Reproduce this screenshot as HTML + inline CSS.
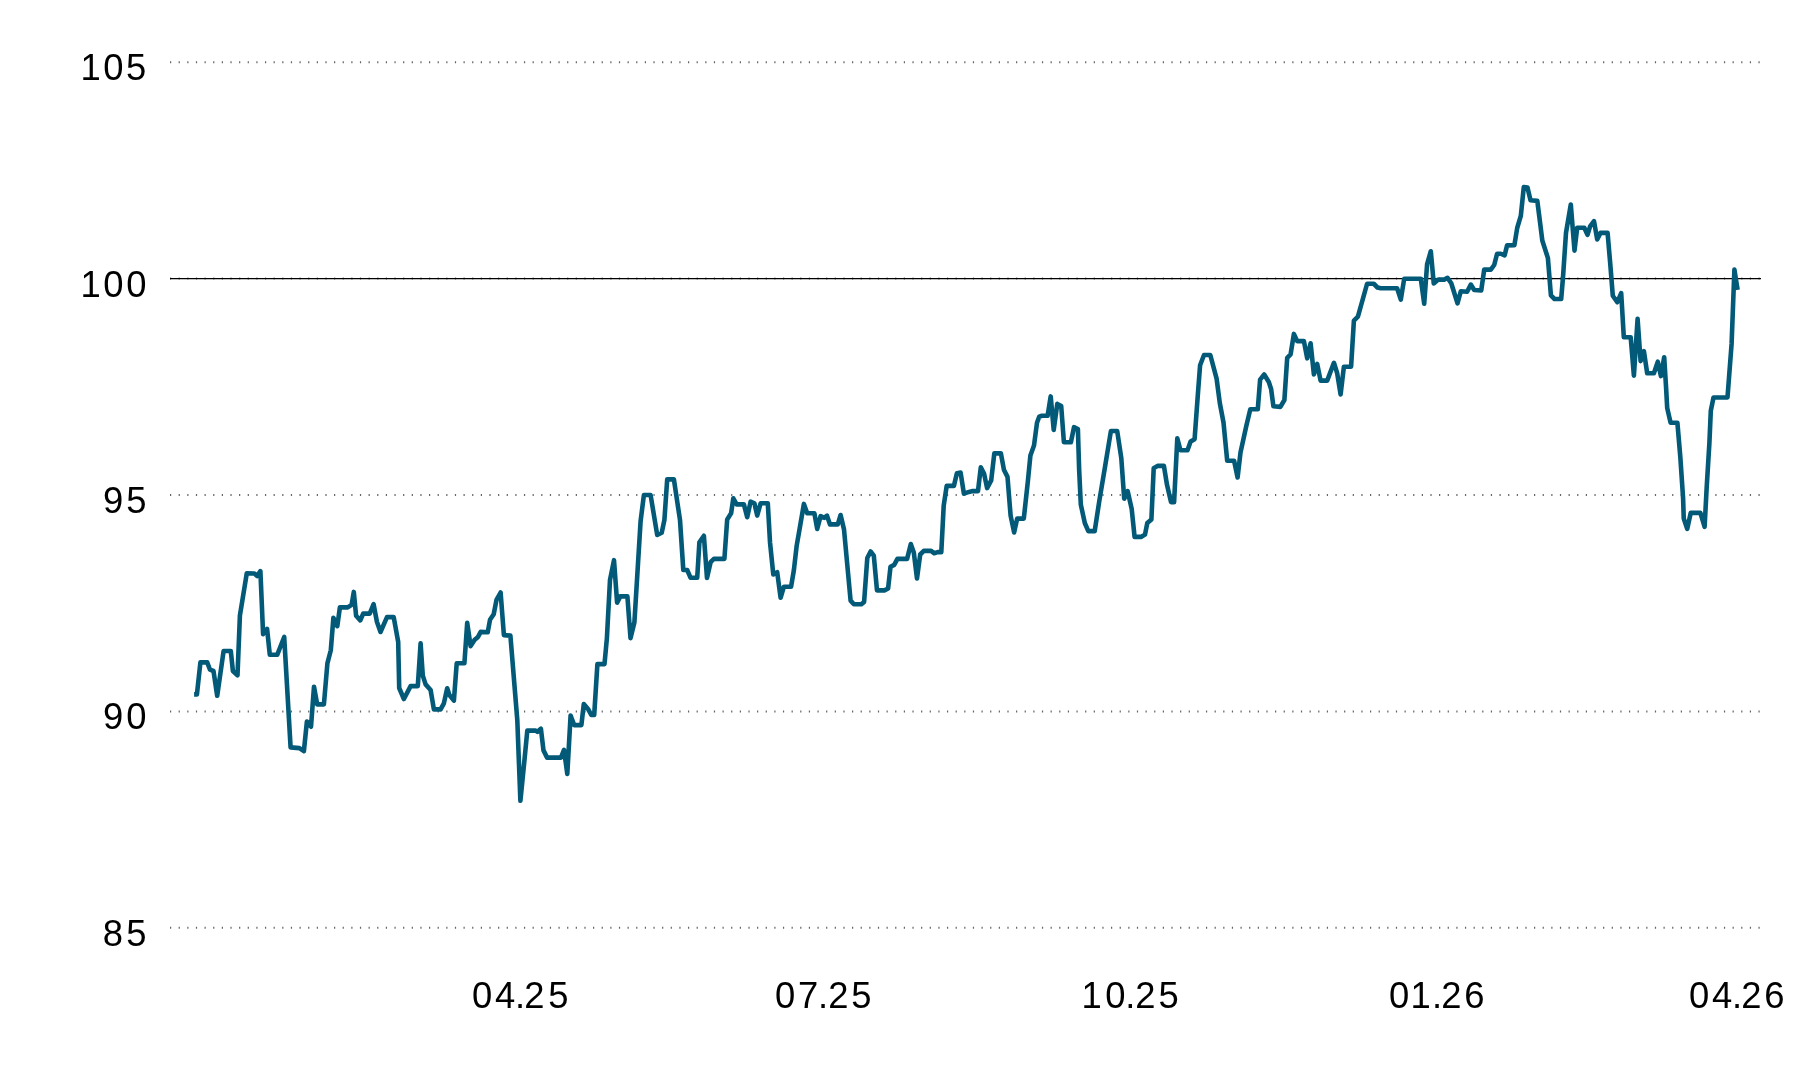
<!DOCTYPE html>
<html><head><meta charset="utf-8"><title>Chart</title>
<style>
html,body{margin:0;padding:0;background:#fff;overflow:hidden;}
body{width:1800px;height:1080px;overflow:hidden;}
svg{display:block;}
text{font-family:"Liberation Sans",Arial,sans-serif;font-size:36.4px;fill:#000;}
</style></head><body>
<svg width="1800" height="1080" viewBox="0 0 1800 1080">
<rect width="1800" height="1080" fill="#fff"/>
<line x1="170" y1="62.2" x2="1761" y2="62.2" stroke="#666" stroke-width="2" stroke-dasharray="1.2 7.433"/>
<line x1="170" y1="278.6" x2="1761" y2="278.6" stroke="#666" stroke-width="2" stroke-dasharray="1.2 7.433"/>
<line x1="170" y1="495.0" x2="1761" y2="495.0" stroke="#666" stroke-width="2" stroke-dasharray="1.2 7.433"/>
<line x1="170" y1="711.4" x2="1761" y2="711.4" stroke="#666" stroke-width="2" stroke-dasharray="1.2 7.433"/>
<line x1="170" y1="927.8" x2="1761" y2="927.8" stroke="#666" stroke-width="2" stroke-dasharray="1.2 7.433"/>
<line x1="170" y1="278.6" x2="1761" y2="278.6" stroke="#000" stroke-width="1.45"/>
<g style="filter:grayscale(1)"><text x="80.38 103.18 126.11" y="80.10">105</text>
<text x="80.38 103.18 126.18" y="296.50">100</text>
<text x="102.89 126.16" y="512.90">95</text>
<text x="102.89 126.23" y="729.30">90</text>
<text x="102.68 126.21" y="945.70">85</text>
<text x="472.08 494.89 515.04 524.18 548.31" y="1008.30">04.25</text>
<text x="774.98 798.06 817.94 828.18 851.31" y="1008.30">07.25</text>
<text x="1081.38 1105.18 1125.24 1135.18 1158.41" y="1008.30">10.25</text>
<text x="1389.08 1410.38 1431.94 1441.28 1464.15" y="1008.30">01.26</text>
<text x="1689.08 1711.89 1731.94 1741.28 1764.15" y="1008.30">04.26</text></g>
<path d="M194.1,694.4 L196.9,694.4 L200.4,662.4 L207.2,662.4 L210,669.7 L213.5,671 L217.2,695.8 L223.6,651 L230.8,651 L232.9,671 L237.5,675.3 L239.9,615.6 L246.8,573.2 L254.4,573.5 L257.2,576 L260.4,571.1 L263.1,634.1 L267.1,628.9 L269.8,654.8 L277.2,654.8 L284.2,637 L290.6,747.4 L299.4,748.1 L303.9,751.1 L306.9,721.5 L311,726.7 L314,686.7 L317.2,704.4 L323.9,704.4 L327.4,663.4 L330.8,650.2 L333.4,617.8 L337.3,626.2 L339.9,607.4 L347.7,607.4 L351.6,604.8 L353.8,591.9 L356.1,615.8 L360.3,620.4 L363.2,613.6 L369.7,613.6 L373.6,604.2 L376.9,621.7 L380.5,632 L387,617.1 L393.7,617.1 L398.2,642 L399.2,688 L403.9,699 L410.6,686.1 L417.8,686.1 L420.6,643.3 L422.8,675.6 L425.6,684.4 L430.6,690 L433.9,709.4 L440.6,709.4 L443.9,703.3 L447.2,688.3 L449.4,695 L453.9,700.6 L456.7,663.3 L464.4,663.3 L467.2,622.8 L470.6,646.1 L474.7,639.7 L478,636.9 L480.7,631.9 L487.7,632.3 L490,619.8 L493.7,614.3 L496.5,599.9 L500.6,592.5 L503.9,635.1 L510.4,635.6 L517.3,720 L520.4,800.8 L524.3,761.8 L527.3,730.6 L535.7,730.6 L537.5,731.8 L540.9,728.7 L543.5,750.4 L547.1,757.6 L561,757.6 L564,749.8 L567.3,773.9 L570.6,715.5 L574.2,725.1 L581.4,725.1 L583.8,704.1 L588,708.9 L591.3,715 L594.2,715 L597.4,664.1 L604.5,664.1 L606.9,638.1 L610,579.9 L614,560.2 L617.1,602.7 L620.3,596.4 L627.4,596.4 L630.5,638.1 L634.4,622.4 L640.6,521.1 L643.9,495 L650.6,495 L657.2,535 L661.7,532.8 L664.4,520 L667.2,479.4 L673.9,479.4 L680,520 L683.3,570 L687.2,570 L690.6,577.8 L697.2,577.8 L699.4,542.2 L703.9,535.8 L707,578 L710.6,562.2 L713.9,558.9 L724.4,558.9 L727.2,519.4 L731.1,513.3 L733.3,498.3 L736.7,504.4 L743.9,504.4 L747.2,517.2 L750.6,501.7 L754.4,503.3 L757.2,515.6 L760.6,503.3 L767.8,503.3 L770,542.2 L773.3,574.4 L777.2,572.2 L780.6,597.8 L783.9,586.7 L791.1,586.7 L793.9,570 L796.7,545.6 L800,526.7 L803.9,503.9 L807.2,513.3 L814.4,513.3 L817.2,528.9 L820.6,516.1 L824.1,517.8 L827,515.7 L830,524.4 L837.8,524.4 L840.6,515 L844,529.4 L850.6,600.6 L853.9,604.3 L861.3,604.3 L864.1,601.9 L867.3,558 L870.6,551.5 L873.8,555.6 L877,590.4 L884.4,590.4 L888.1,588.5 L890.5,566.8 L894.2,564.9 L897.4,558.9 L907.1,558.9 L910.8,544.1 L913.8,552.5 L917,578.5 L920.2,554.5 L923.8,550.9 L931.1,550.9 L934.1,553.3 L937.7,552.1 L941.3,552.1 L943.7,505.7 L946.7,485.9 L953.9,485.9 L956.9,473.2 L960.6,472.6 L963.9,493.7 L969,491.9 L972.6,491.1 L978,491.1 L980.8,467.2 L984.1,473.8 L987.1,488.1 L991.2,480.4 L994.3,453.4 L1000.9,453.4 L1003.9,469.7 L1007.5,476.9 L1010.6,515.6 L1014.1,532.4 L1017.2,518.6 L1023.8,518.6 L1027.9,480.9 L1030.4,455.5 L1034,445.5 L1037,422.8 L1039.2,416.7 L1041.9,415.8 L1047.6,415.8 L1050.7,396.4 L1053.7,429.9 L1057.3,403.9 L1061.2,406.1 L1063.9,442.2 L1070.9,442.2 L1074,427.2 L1077.9,429 L1079.1,468.6 L1080.8,504.5 L1084.8,523 L1088.3,531.1 L1094.7,531.1 L1099.3,501 L1105.1,466.3 L1110.9,431 L1117.2,431 L1121.3,458.2 L1124.2,498.7 L1127.7,491.2 L1131.7,509.1 L1134.6,536.9 L1141,536.9 L1145,534.6 L1147.3,523 L1151.4,519.5 L1153.7,468.3 L1157.6,465.9 L1163.9,465.9 L1167,484.8 L1171,502.1 L1174.1,502.1 L1177.3,438.4 L1180.4,450.2 L1187.5,450.2 L1190.6,441.5 L1194.6,439.2 L1197.7,396.7 L1200.1,365.2 L1204,355 L1210.3,355 L1216.6,378.6 L1219.8,403 L1223.5,422.5 L1227.2,460.7 L1234.1,460.7 L1237.6,477.5 L1240.5,452.6 L1246.3,426 L1250.3,409.2 L1257.8,409.2 L1260.1,379.7 L1264.2,374.5 L1268.8,382 L1271.1,388.9 L1273.4,406.3 L1280.4,406.9 L1284.4,400 L1287.2,357.8 L1290.6,354.4 L1293.9,333.9 L1297.2,341.1 L1303.9,341.1 L1307.2,358.3 L1310.6,343.3 L1313.9,374.4 L1317.2,363.9 L1320.6,380.6 L1327.2,380.6 L1333.9,362.8 L1337.2,373.3 L1340.6,394.4 L1343.9,366.7 L1351.1,366.7 L1353.9,320.6 L1357.9,316.7 L1367.1,283.75 L1373.75,283.75 L1377.5,287.5 L1380.8,288.3 L1397.1,288.3 L1400.8,299.6 L1404.2,278.75 L1420.8,278.75 L1424.2,303.75 L1427.1,264.2 L1430.8,251.25 L1433.75,283.5 L1438.3,279.6 L1444.2,279.6 L1447.5,277.9 L1451.25,283.3 L1457.5,303.3 L1460.8,291.25 L1467.1,291.7 L1470.8,284.6 L1474.2,290 L1481.25,290.4 L1484.2,269.6 L1490.8,269.6 L1494.2,265 L1497.1,253.75 L1500.8,253.75 L1504.6,255.4 L1507.1,245.4 L1514.4,245.1 L1517.2,228 L1520.8,215.9 L1523.8,187 L1527.5,187.6 L1530.5,200.3 L1537.3,200.9 L1540,222 L1542.3,240.5 L1547.9,258.1 L1550.9,295.4 L1554.5,299 L1561.2,299 L1563,277.3 L1566,232.8 L1570.8,204.5 L1574.5,250.6 L1577.2,227.8 L1584.3,227.7 L1587.5,234.8 L1590.1,226.4 L1594,221.2 L1597.2,239.4 L1600.5,232.9 L1607.6,232.9 L1610.2,263.3 L1612.8,295.7 L1617.3,302.2 L1621.2,293.2 L1623.8,337.2 L1630.7,337.2 L1633.9,375.6 L1637.6,318.9 L1640.6,361.1 L1643.9,351.1 L1647.2,373.3 L1653.9,373.3 L1657.8,361.7 L1660.9,376.1 L1664.2,357.2 L1666.1,387.8 L1667.2,408 L1670.6,422.8 L1677.4,422.8 L1680.3,456.7 L1683.1,498.3 L1683.75,518.5 L1687.2,528.9 L1690.7,512.9 L1700.4,512.9 L1704.6,526.8 L1706.7,487.2 L1709.4,442.8 L1710.8,410.8 L1713.5,397.5 L1727.5,397.4 L1731.6,343.9 L1734.4,269.6 L1737.6,289.9" fill="none" stroke="#035a78" stroke-width="4.6" stroke-linejoin="round" stroke-linecap="butt"/>
</svg>
</body></html>
